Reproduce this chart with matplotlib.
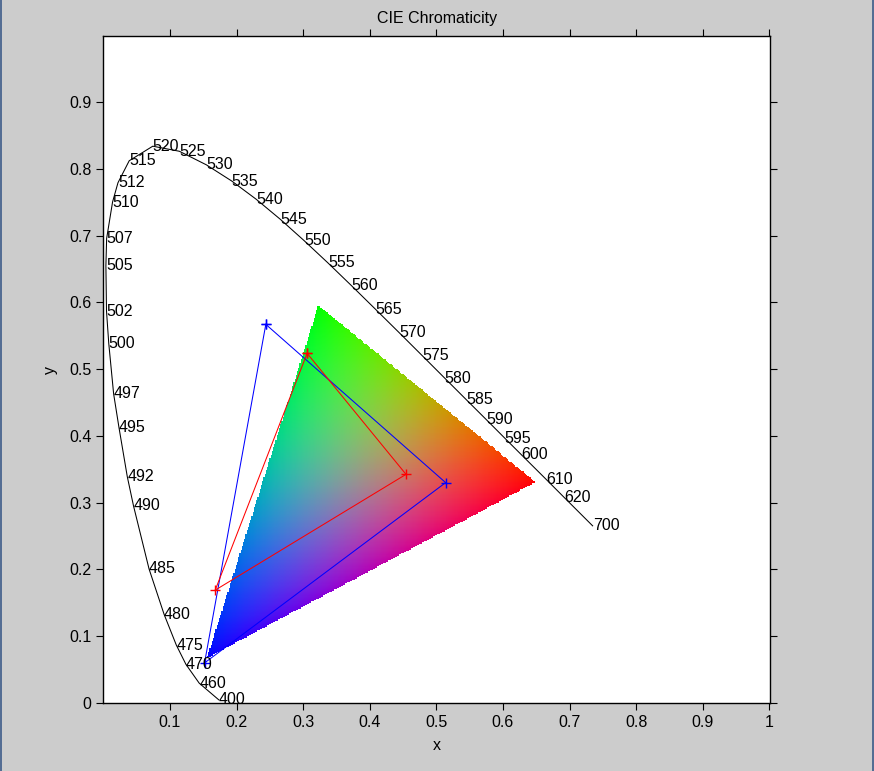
import numpy as np
import matplotlib.pyplot as plt
from matplotlib.lines import Line2D

plt.rcParams['font.family'] = ['Liberation Sans', 'DejaVu Sans']

### DATA ###

# spectral locus points that carry a wavelength label
wl = [400, 460, 470, 475, 480, 485, 490, 492, 495, 497, 500, 502, 505, 507,
      510, 512, 515, 520, 525, 530, 535, 540, 545, 550, 555, 560, 565, 570,
      575, 580, 585, 590, 595, 600, 610, 620, 700]
loc_x = [0.1733, 0.1440, 0.1241, 0.1096, 0.0913, 0.0687, 0.0454, 0.0360, 0.0235, 0.0155,
         0.0082, 0.0048, 0.0039, 0.0050, 0.0139, 0.0220, 0.0389, 0.0743, 0.1142, 0.1547,
         0.1929, 0.2296, 0.2658, 0.3016, 0.3374, 0.3731, 0.4087, 0.4441, 0.4788, 0.5125,
         0.5448, 0.5752, 0.6029, 0.6270, 0.6658, 0.6915, 0.7347]
loc_y = [0.0048, 0.0297, 0.0578, 0.0868, 0.1327, 0.2007, 0.2950, 0.3390, 0.4127, 0.4630,
         0.5384, 0.5870, 0.6548, 0.6956, 0.7502, 0.7790, 0.8120, 0.8338, 0.8262, 0.8059,
         0.7816, 0.7543, 0.7243, 0.6923, 0.6589, 0.6245, 0.5896, 0.5547, 0.5202, 0.4866,
         0.4544, 0.4242, 0.3965, 0.3725, 0.3340, 0.3083, 0.2653]

# filled gamut (R, G, B primaries)
gamut_x = [0.648, 0.322, 0.155]
gamut_y = [0.331, 0.595, 0.068]

# blue and red triangles
blue_x = [0.244, 0.514, 0.152]
blue_y = [0.567, 0.330, 0.060]
red_x = [0.306, 0.4545, 0.168]
red_y = [0.5236, 0.3424, 0.169]

xtick_vals = [0.1, 0.2, 0.3, 0.4, 0.5, 0.6, 0.7, 0.8, 0.9, 1.0]
xtick_lbls = ['0.1', '0.2', '0.3', '0.4', '0.5', '0.6', '0.7', '0.8', '0.9', '1']
ytick_vals = [0, 0.1, 0.2, 0.3, 0.4, 0.5, 0.6, 0.7, 0.8, 0.9]
ytick_lbls = ['0', '0.1', '0.2', '0.3', '0.4', '0.5', '0.6', '0.7', '0.8', '0.9']

### FUNCTIONS ###

def gamutImage(gx, gy, step=0.0018):
    xs = np.arange(min(gx), max(gx) + step, step)
    ys = np.arange(min(gy), max(gy) + step, step)
    X, Y = np.meshgrid(xs + step / 2, ys + step / 2)
    T = np.array([[gx[0] - gx[2], gx[1] - gx[2]],
                  [gy[0] - gy[2], gy[1] - gy[2]]])
    Ti = np.linalg.inv(T)
    dx = X - gx[2]
    dy = Y - gy[2]
    wr = Ti[0, 0] * dx + Ti[0, 1] * dy
    wg = Ti[1, 0] * dx + Ti[1, 1] * dy
    wb = 1 - wr - wg
    w = np.stack([wr, wg, wb], axis=-1)
    inside = np.all(w >= 0, axis=-1)
    w = np.clip(w, 0, 1) ** 0.8
    n = np.sqrt((w ** 2).sum(axis=-1, keepdims=True))
    n[n == 0] = 1
    rgb = np.clip(w / n, 0, 1)
    img = np.zeros(X.shape + (4,))
    img[..., :3] = rgb
    img[..., 3] = inside.astype(float)
    ext = [xs[0], xs[-1] + step, ys[0], ys[-1] + step]
    return img, ext

### MAIN ###

fig = plt.figure(figsize=(8.74, 7.71), dpi=100)
fig.patch.set_facecolor('#cccccc')
ax = fig.add_axes([103.3 / 874, 68 / 771, 666.7 / 874, 667 / 771])
ax.set_facecolor('white')

img, ext = gamutImage(gamut_x, gamut_y)
ax.imshow(img, extent=ext, origin='lower', interpolation='nearest', aspect='auto', zorder=1)

ax.plot(loc_x, loc_y, color='black', lw=0.75, zorder=2)
for w, x, y in zip(wl, loc_x, loc_y):
    ax.text(x, y, str(w), fontsize=11.5, ha='left', va='center', zorder=4)

ax.plot(blue_x + blue_x[:1], blue_y + blue_y[:1], 'b-+', lw=0.75, ms=6.5, mew=1.0, zorder=3)
ax.plot(red_x + red_x[:1], red_y + red_y[:1], 'r-+', lw=0.75, ms=6.5, mew=1.0, zorder=3)

ax.set_xlim(0, 1.001)
ax.set_ylim(0, 0.9988)
ax.set_xticks(xtick_vals)
ax.set_xticklabels(xtick_lbls)
ax.set_yticks(ytick_vals)
ax.set_yticklabels(ytick_lbls)
ax.tick_params(direction='out', length=5, width=0.8, top=True, right=True,
               labelsize=11.5, pad=3.5, colors='black')
for s in ax.spines.values():
    s.set_linewidth(1.0)

ax.set_title('CIE Chromaticity', fontsize=11.5, pad=9)
ax.set_xlabel('x', fontsize=11.5, labelpad=6)
ax.set_ylabel('y', fontsize=11.5, labelpad=8)

# window border
fig.add_artist(Line2D([0.6 / 874, 0.6 / 874], [0, 1], color='#3c5a88', lw=1.2))
fig.add_artist(Line2D([872.6 / 874, 872.6 / 874], [0, 1], color='#3c5a88', lw=1.2))

fig.savefig('out.png', dpi=100, facecolor=fig.get_facecolor())
